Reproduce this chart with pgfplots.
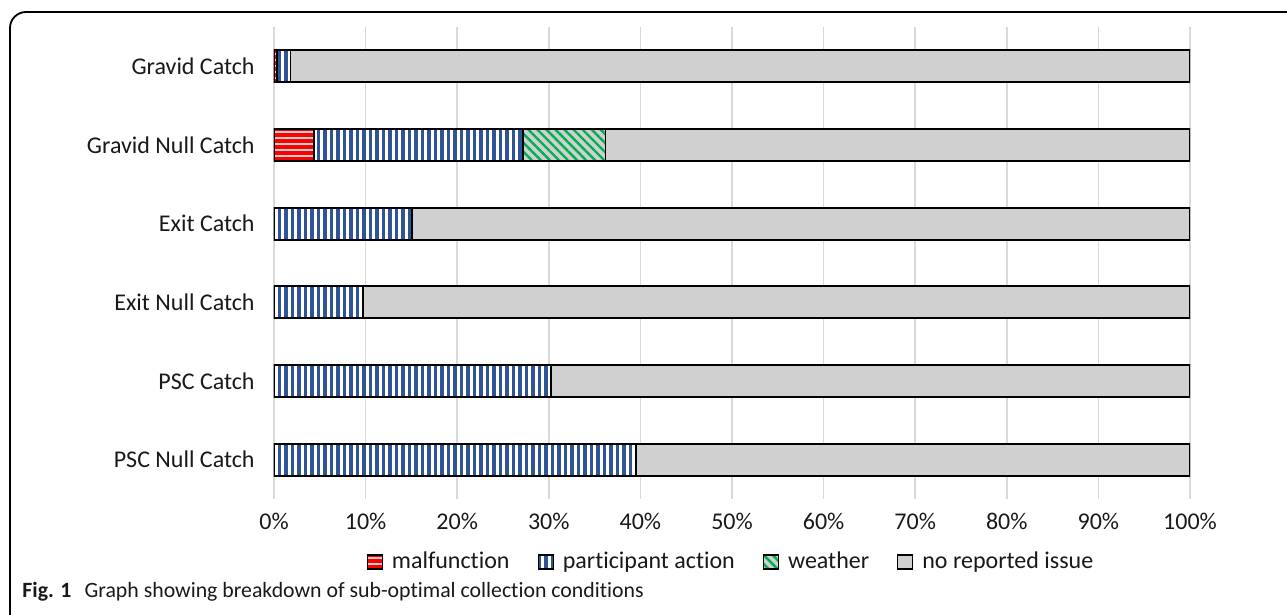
\documentclass[border=0pt]{standalone}
\usepackage{fontspec}
\setmainfont{Carlito}[Ligatures=NoCommon]
\usepackage{pgfplots}
\pgfplotsset{compat=1.18}
\usetikzlibrary{patterns.meta}
\definecolor{cred}{HTML}{FF0000}
\definecolor{cblue}{HTML}{2F5597}
\definecolor{cgreen}{HTML}{00B050}
\definecolor{cgray}{HTML}{D0D0D0}
\definecolor{gridgray}{HTML}{D9D9D9}
\begin{document}
\begin{tikzpicture}
\useasboundingbox (0,0) rectangle (643.5pt,-307.5pt);
\draw[line width=0.9pt, rounded corners=8pt] (5pt,-330pt) -- (5pt,-6pt) -- (680pt,-6pt);
\begin{axis}[
  at={(137pt,-249.5pt)}, anchor=south west,
  scale only axis, width=458pt, height=236pt,
  xbar stacked, bar width=16pt,
  xmin=0, xmax=100, ymin=-0.5, ymax=5.5, y dir=reverse,
  xtick={0,10,...,100},
  xticklabels={0\%,10\%,20\%,30\%,40\%,50\%,60\%,70\%,80\%,90\%,100\%},
  ytick={0,...,5},
  yticklabels={Gravid Catch,Gravid Null Catch,Exit Catch,Exit Null Catch,PSC Catch,PSC Null Catch},
  xmajorgrids, major grid style={color=gridgray, line width=0.75pt},
  axis line style={draw=none}, major tick length=0pt,
  tick label style={font=\fontsize{12}{14}\selectfont, text=black!90},
  x tick label style={inner sep=0pt, yshift=-7pt},
  y tick label style={inner sep=0pt, xshift=-9.5pt},
  legend style={at={(0.5,-0.1335)}, anchor=center, draw=none,
    font=\fontsize{12}{14}\selectfont, text=black!90,
    /tikz/every odd column/.append style={column sep=2.5pt},
    /tikz/every even column/.append style={column sep=12pt}},
  legend columns=4,
  legend image code/.code={\draw[#1, line width=0.6pt] (0pt,-3.5pt) rectangle (7.5pt,3.5pt);},
]
\addplot[draw=black, line width=0.9pt, fill=cgray,
  postaction={pattern={Lines[angle=0, distance=3pt, line width=1.7pt]}, pattern color=cred}]
  coordinates {(0.3,0) (4.4,1) (0,2) (0,3) (0,4) (0,5)};
\addlegendentry{malfunction}
\addplot[draw=black, line width=0.9pt, fill=white,
  postaction={pattern={Lines[angle=90, distance=3.25pt, line width=1.8pt]}, pattern color=cblue}]
  coordinates {(1.5,0) (22.8,1) (15.1,2) (9.7,3) (30.2,4) (39.5,5)};
\addlegendentry{participant action}
\addplot[draw=black, line width=0.9pt, fill=cgray,
  postaction={pattern={Lines[angle=-45, distance=3.2pt, line width=1.2pt]}, pattern color=cgreen}]
  coordinates {(0,0) (9.0,1) (0,2) (0,3) (0,4) (0,5)};
\addlegendentry{weather}
\addplot[draw=black, line width=0.9pt, fill=cgray]
  coordinates {(98.2,0) (63.8,1) (84.9,2) (90.3,3) (69.8,4) (60.5,5)};
\addlegendentry{no reported issue}
\end{axis}
\node[anchor=west, inner sep=0pt, font=\fontsize{10.9}{12}\selectfont, text=black!90] at (11pt,-296pt)
  {\textbf{Fig. 1}\hspace{0.6em}Graph showing breakdown of sub-optimal collection conditions};
\end{tikzpicture}
\end{document}
